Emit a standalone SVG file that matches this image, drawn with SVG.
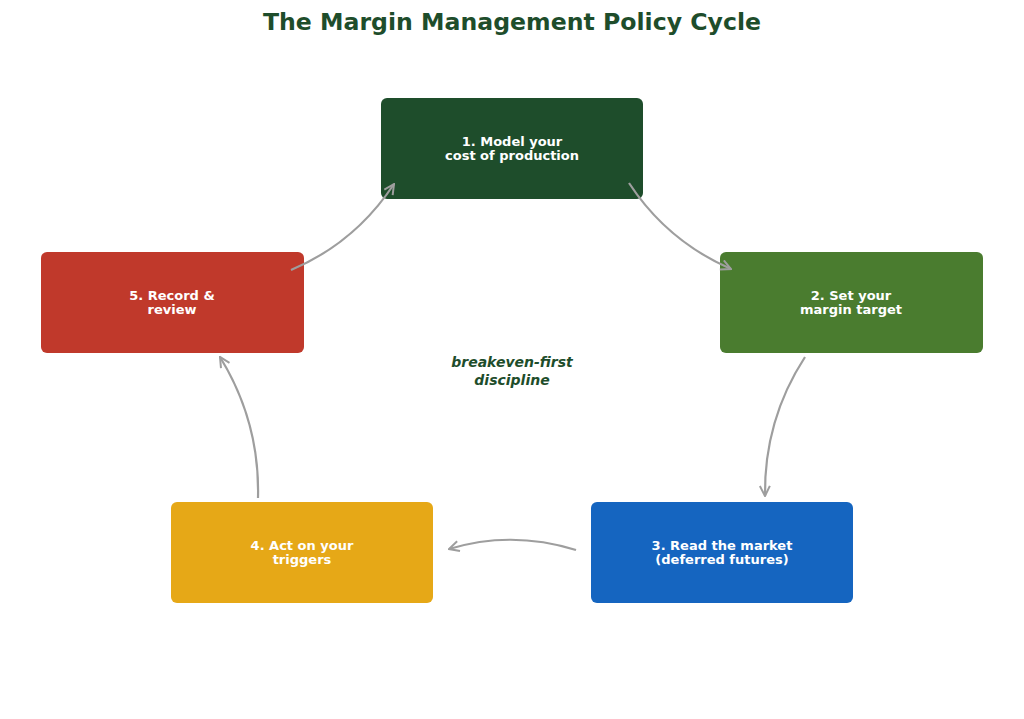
<svg xmlns="http://www.w3.org/2000/svg" width="1024" height="719" viewBox="0 0 1024 719">
<defs>
<style>
.box{stroke:none}
.lbl{font-family:"DejaVu Sans",sans-serif;font-weight:bold;font-size:13px;fill:#ffffff;text-anchor:middle}
.title{font-family:"DejaVu Sans",sans-serif;font-weight:bold;font-size:23.6px;fill:#1e4d2b;text-anchor:middle}
.center{font-family:"DejaVu Sans",sans-serif;font-weight:bold;font-style:italic;font-size:14px;fill:#1e4d2b;text-anchor:middle}
.conn{fill:none;stroke:#9e9e9e;stroke-width:2.2;marker-end:url(#arr)}
</style>
<marker id="arr" viewBox="0 0 12 12" refX="11" refY="6" markerWidth="12" markerHeight="12" markerUnits="userSpaceOnUse" orient="auto">
<path d="M1,1 L11,6 L1,11" fill="none" stroke="#9e9e9e" stroke-width="2"/>
</marker>
</defs>
<rect width="1024" height="719" fill="#ffffff"/>
<text class="title" x="512" y="30">The Margin Management Policy Cycle</text>
<g id="node1"><rect class="box" x="381" y="98" width="262" height="101" rx="6" fill="#1e4d2b"/><text class="lbl" x="512" y="146">1. Model your</text><text class="lbl" x="512" y="160">cost of production</text></g>
<g id="node2"><rect class="box" x="720" y="252" width="263" height="101" rx="6" fill="#4a7c2f"/><text class="lbl" x="851" y="300">2. Set your</text><text class="lbl" x="851" y="314">margin target</text></g>
<g id="node3"><rect class="box" x="591" y="502" width="262" height="101" rx="6" fill="#1565c0"/><text class="lbl" x="722" y="550">3. Read the market</text><text class="lbl" x="722" y="564">(deferred futures)</text></g>
<g id="node4"><rect class="box" x="171" y="502" width="262" height="101" rx="6" fill="#e6a817"/><text class="lbl" x="302" y="550">4. Act on your</text><text class="lbl" x="302" y="564">triggers</text></g>
<g id="node5"><rect class="box" x="41" y="252" width="263" height="101" rx="6" fill="#c0392b"/><text class="lbl" x="172" y="300">5. Record &amp;</text><text class="lbl" x="172" y="314">review</text></g>
<g id="centerlabel"><text class="center" x="512" y="367">breakeven-first</text><text class="center" x="512" y="385">discipline</text></g>
<g id="connectors">
<path class="conn" d="M629,183 Q667,241 731,269"/>
<path class="conn" d="M805,357 Q764,420 765,496"/>
<path class="conn" d="M576,550 Q512,530 449,549"/>
<path class="conn" d="M258,498 Q260,422 220,357"/>
<path class="conn" d="M291,270 Q355,243 394,184"/>
</g>
</svg>
